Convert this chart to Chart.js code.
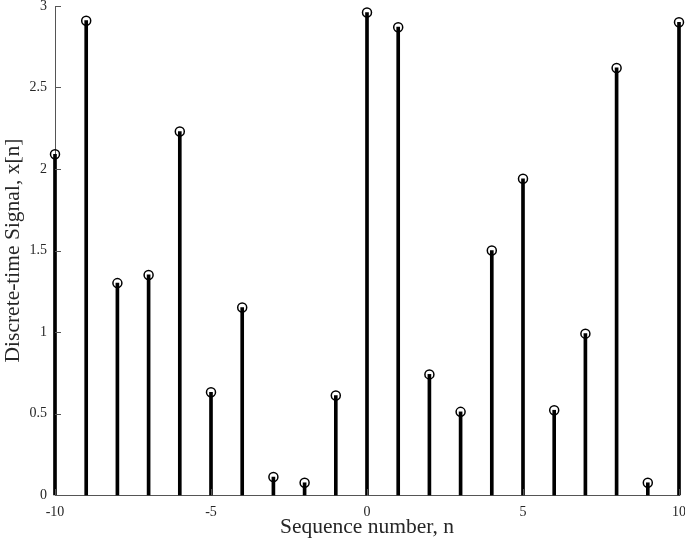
<!DOCTYPE html>
<html>
<head>
<meta charset="utf-8">
<script src="https://cdn.jsdelivr.net/npm/chart.js@4/dist/chart.umd.min.js"></script>
<style>
  html, body { margin: 0; padding: 0; background: #fff; }
  #box { width: 685px; height: 542px; }
</style>
</head>
<body>
<div id="box"><canvas id="grafico"></canvas></div>
<script>
// sequence index n
var sequencia = [-10, -9, -8, -7, -6, -5, -4, -3, -2, -1, 0, 1, 2, 3, 4, 5, 6, 7, 8, 9, 10];
// x[n] values
var valores = [2.09, 2.91, 1.30, 1.35, 2.23, 0.63, 1.15, 0.11, 0.075, 0.61, 2.96, 2.87, 0.74, 0.51, 1.50, 1.94, 0.52, 0.99, 2.62, 0.075, 2.90];
var ticksX = [-10, -5, 0, 5, 10];
var ticksY = [0, 0.5, 1, 1.5, 2, 2.5, 3];

var pontos = sequencia.map(function (n, i) { return { x: n, y: valores[i] }; });

var fonteSerif = "'Liberation Serif', 'DejaVu Serif', serif";
var corTexto = '#262626';

// small inward tick marks, like the original figure
var ticksPraDentro = {
  id: 'ticksPraDentro',
  afterDatasetsDraw: function (chart) {
    var ctx = chart.ctx;
    var xs = chart.scales.x, ys = chart.scales.y;
    var area = chart.chartArea;
    ctx.save();
    ctx.strokeStyle = '#555';
    ctx.lineWidth = 1;
    ticksY.forEach(function (v) {
      var py = Math.round(ys.getPixelForValue(v)) + 0.5;
      ctx.beginPath();
      ctx.moveTo(area.left, py);
      ctx.lineTo(area.left + 6, py);
      ctx.stroke();
    });
    ticksX.forEach(function (v) {
      var px = Math.round(xs.getPixelForValue(v)) + 0.5;
      ctx.beginPath();
      ctx.moveTo(px, area.bottom);
      ctx.lineTo(px, area.bottom - 6);
      ctx.stroke();
    });
    ctx.restore();
  }
};

function soNumero(v) { return String(v); }

var ctx = document.getElementById('grafico').getContext('2d');
var grafico = new Chart(ctx, {
  data: {
    datasets: [
      {
        type: 'bar',
        data: pontos,
        backgroundColor: '#000',
        borderWidth: 0,
        barThickness: 3,
        clip: false,
        order: 2
      },
      {
        type: 'scatter',
        data: pontos,
        pointStyle: 'circle',
        pointRadius: 4.5,
        pointHoverRadius: 4.5,
        pointBorderWidth: 1.5,
        pointBorderColor: '#000',
        pointBackgroundColor: 'rgba(0,0,0,0)',
        clip: false,
        order: 1
      }
    ]
  },
  options: {
    responsive: true,
    maintainAspectRatio: false,
    animation: false,
    devicePixelRatio: 1,
    layout: { padding: { top: 5, right: 5, left: 0, bottom: 0 } },
    plugins: {
      legend: { display: false },
      tooltip: { enabled: false }
    },
    scales: {
      x: {
        type: 'linear',
        min: -10,
        max: 10,
        offset: false,
        afterBuildTicks: function (scale) {
          scale.ticks = ticksX.map(function (v) { return { value: v }; });
        },
        afterFit: function (scale) {
          scale.height = 47;
          scale.paddingLeft = 0;
          scale.paddingRight = 0;
        },
        grid: { display: false, drawTicks: false },
        border: { display: true, color: '#555', width: 1 },
        ticks: {
          padding: 9,
          color: corTexto,
          font: { family: fonteSerif, size: 14 },
          maxRotation: 0,
          callback: soNumero
        },
        title: {
          display: true,
          text: 'Sequence number, n',
          color: corTexto,
          font: { family: fonteSerif, size: 21.5 },
          padding: { top: 0, bottom: 2 }
        }
      },
      y: {
        type: 'linear',
        min: 0,
        max: 3,
        afterBuildTicks: function (scale) {
          scale.ticks = ticksY.map(function (v) { return { value: v }; });
        },
        afterFit: function (scale) {
          scale.width = 55;
          scale.paddingTop = 0;
          scale.paddingBottom = 0;
        },
        grid: { display: false, drawTicks: false },
        border: { display: true, color: '#555', width: 1 },
        ticks: {
          padding: 8,
          color: corTexto,
          font: { family: fonteSerif, size: 14 },
          callback: soNumero
        },
        title: {
          display: true,
          text: 'Discrete-time Signal, x[n]',
          color: corTexto,
          font: { family: fonteSerif, size: 21.5 },
          padding: { top: 0, bottom: 0 }
        }
      }
    }
  },
  plugins: [ticksPraDentro]
});
</script>
</body>
</html>
